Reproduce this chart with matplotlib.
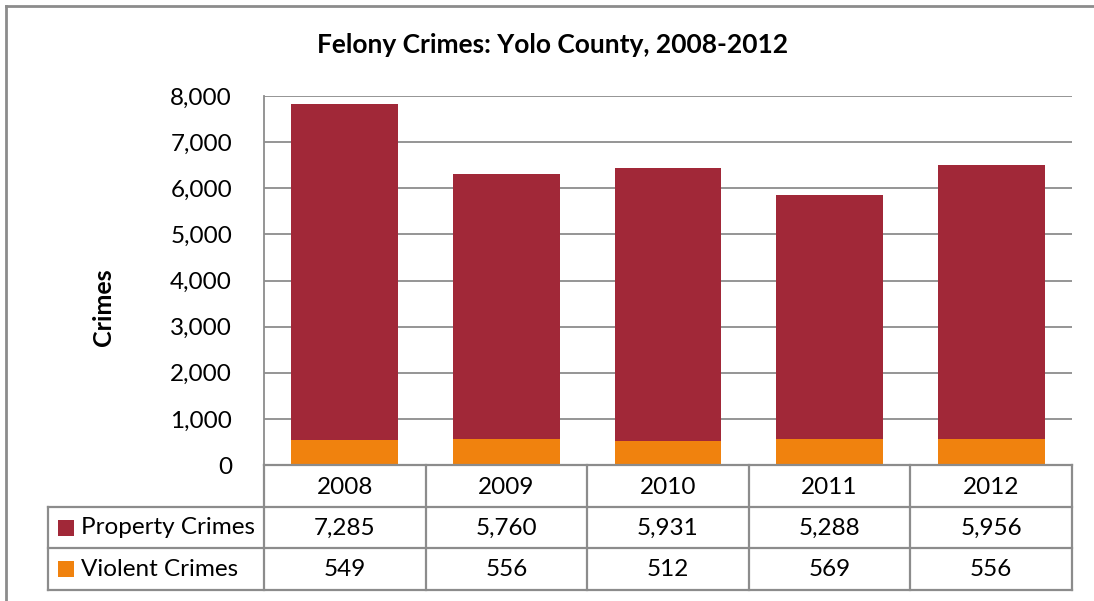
import matplotlib
matplotlib.use("Agg")
import matplotlib.pyplot as plt
from matplotlib.lines import Line2D
from matplotlib.patches import Rectangle

years = ["2008", "2009", "2010", "2011", "2012"]
property_crimes = [7285, 5760, 5931, 5288, 5956]
violent_crimes = [549, 556, 512, 569, 556]
series_names = ["Property Crimes", "Violent Crimes"]
yticks = [0, 1000, 2000, 3000, 4000, 5000, 6000, 7000, 8000]

PROP_C = "#A12838"
VIOL_C = "#F0820E"
GRID_C = "#8C8C8C"
FONT = ["Lato", "DejaVu Sans"]
plt.rcParams['font.family'] = FONT
FS = 17.5

W, H = 1094, 601
fig = plt.figure(figsize=(W / 100, H / 100), dpi=100)

def fx(px):
    return px / W

def fy(py):
    return 1 - py / H

ax_l, ax_r, ax_t, ax_b = 264, 1072, 96, 465
ax = fig.add_axes([fx(ax_l), fy(ax_b), fx(ax_r) - fx(ax_l), fy(ax_t) - fy(ax_b)])

x = list(range(len(years)))
ax.bar(x, violent_crimes, width=0.66, color=VIOL_C, zorder=3)
ax.bar(x, property_crimes, width=0.66, bottom=violent_crimes, color=PROP_C, zorder=3)

ax.set_xlim(-0.5, len(years) - 0.5)
ax.set_ylim(0, 8000)
ax.set_yticks(yticks)
ax.set_yticklabels([f"{v:,}" for v in yticks], fontsize=FS)
ax.tick_params(axis='y', length=0, pad=23)
ax.set_xticks([])
ax.grid(axis='y', color=GRID_C, linewidth=1.3, zorder=0)
for s in ["top", "right", "bottom"]:
    ax.spines[s].set_visible(False)
ax.spines["left"].set_color(GRID_C)
ax.spines["left"].set_linewidth(1.3)

fig.text(fx(103), fy(307), "Crimes", rotation=90, ha="center", va="center",
         fontsize=18, fontweight="bold")

fig.text(fx(553), fy(45), "Felony Crimes: Yolo County, 2008-2012",
         ha="center", va="center", fontsize=19, fontweight="bold")

# Data table
col_edges = [264 + i * (1072 - 264) / 5 for i in range(6)]
row_edges = [465, 507, 548, 590]
lab_left = 48
lw = 1.6

def hline(x0, x1, y):
    fig.add_artist(Line2D([fx(x0), fx(x1)], [fy(y), fy(y)], color=GRID_C, lw=lw))

def vline(xp, y0, y1):
    fig.add_artist(Line2D([fx(xp), fx(xp)], [fy(y0), fy(y1)], color=GRID_C, lw=lw))

hline(264, 1072, 465)
for y in row_edges[1:]:
    hline(lab_left, 1072, y)
for xe in col_edges:
    vline(xe, 465, 590)
vline(lab_left, 507, 590)

for i, yr in enumerate(years):
    cx = (col_edges[i] + col_edges[i + 1]) / 2
    fig.text(fx(cx), fy(487), yr, ha="center", va="center", fontsize=FS)
    fig.text(fx(cx), fy(528), f"{property_crimes[i]:,}", ha="center", va="center", fontsize=FS)
    fig.text(fx(cx), fy(569), f"{violent_crimes[i]:,}", ha="center", va="center", fontsize=FS)

for j, (name, col) in enumerate(zip(series_names, [PROP_C, VIOL_C])):
    ymid = (row_edges[j + 1] + row_edges[j + 2]) / 2
    fig.add_artist(Rectangle((fx(58), fy(ymid + 8)), fx(16), fy(0) - fy(16),
                             facecolor=col, edgecolor="none"))
    fig.text(fx(81), fy(ymid), name, ha="left", va="center", fontsize=FS)

# Outer chart frame (left and top edges visible)
fig.add_artist(Line2D([fx(6), fx(6)], [fy(6), fy(601)], color=GRID_C, lw=2))
fig.add_artist(Line2D([fx(6), fx(1094)], [fy(6), fy(6)], color=GRID_C, lw=2))

fig.savefig("out.png", dpi=100)
